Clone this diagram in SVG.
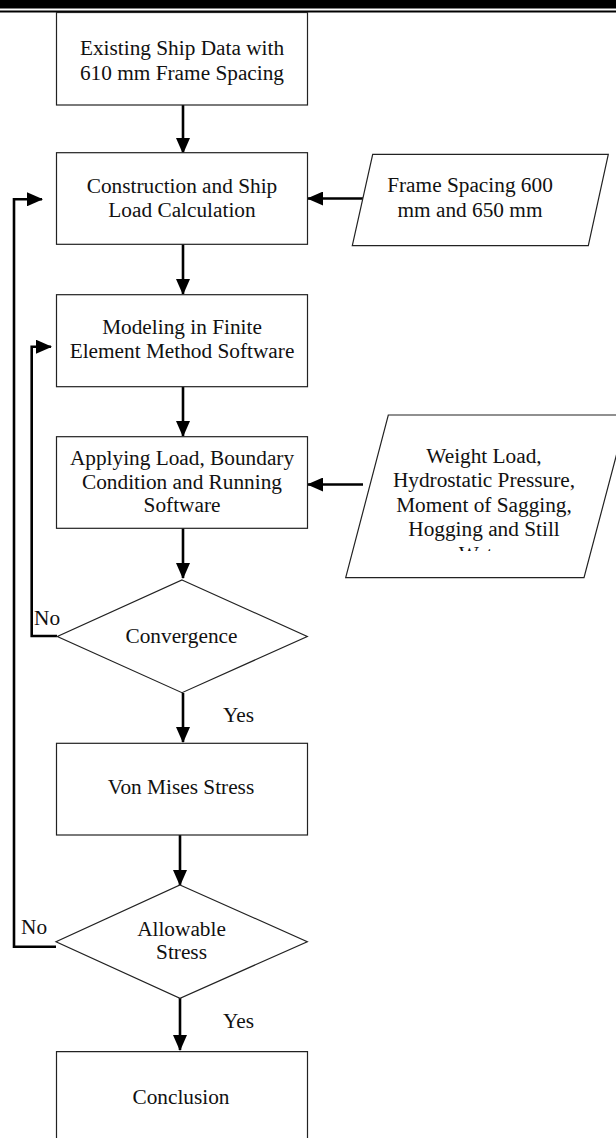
<svg xmlns="http://www.w3.org/2000/svg" width="616" height="1138" viewBox="0 0 616 1138">
<style>
.box{fill:#fff;stroke:#222;stroke-width:1.2}
.t{font-family:"Liberation Serif","Times New Roman",serif;font-size:21.3px;fill:#111;text-anchor:middle}
.tl{font-family:"Liberation Serif","Times New Roman",serif;font-size:21.3px;fill:#111}
.c{fill:none;stroke:#000;stroke-width:2.6}
</style>
<defs>
<marker id="ah" viewBox="0 0 16 14" refX="15" refY="7" markerWidth="16" markerHeight="14" markerUnits="userSpaceOnUse" orient="auto">
<path d="M0,0 L16,7 L0,14 z" fill="#000"/>
</marker>
<clipPath id="clipW"><rect x="340" y="410" width="280" height="141"/></clipPath>
</defs>
<rect width="616" height="1138" fill="#fff"/>
<g id="header">
<rect x="0" y="0" width="616" height="8.5" fill="#000"/>
<rect x="0" y="10.5" width="616" height="2" fill="#000"/>
</g>
<g id="connectors">
<path class="c" d="M183,105 V153" marker-end="url(#ah)"/>
<path class="c" d="M183,244 V294" marker-end="url(#ah)"/>
<path class="c" d="M183,387 V436" marker-end="url(#ah)"/>
<path class="c" d="M183,528 V578" marker-end="url(#ah)"/>
<path class="c" d="M183,693 V742" marker-end="url(#ah)"/>
<path class="c" d="M180,835 V885" marker-end="url(#ah)"/>
<path class="c" d="M180,998 V1050" marker-end="url(#ah)"/>
<path class="c" d="M363,198.5 H308" marker-end="url(#ah)"/>
<path class="c" d="M363,484.5 H308" marker-end="url(#ah)"/>
<path class="c" d="M57,636 H31.7 V346.7 H51" marker-end="url(#ah)"/>
<path class="c" d="M56,946.7 H14 V199.3 H42" marker-end="url(#ah)"/>
<text class="tl" x="34" y="625">No</text>
<text class="tl" x="21" y="934">No</text>
<text class="tl" x="223" y="722">Yes</text>
<text class="tl" x="223" y="1028">Yes</text>
</g>
<g id="n1">
<rect class="box" x="56.5" y="12.5" width="251" height="92.5"/>
<text class="t" x="182" y="55">Existing Ship Data with</text>
<text class="t" x="182" y="80">610 mm Frame Spacing</text>
</g>
<g id="n2">
<rect class="box" x="56.5" y="152.7" width="251" height="91.6"/>
<text class="t" x="182" y="193">Construction and Ship</text>
<text class="t" x="182" y="217">Load Calculation</text>
</g>
<g id="p1">
<polygon class="box" points="372.7,154.3 608.3,154.3 588.3,245.7 352.3,245.7"/>
<text class="t" x="470" y="192">Frame Spacing 600</text>
<text class="t" x="470" y="217">mm and 650 mm</text>
</g>
<g id="n3">
<rect class="box" x="56.5" y="294.7" width="251" height="92"/>
<text class="t" x="182" y="334">Modeling in Finite</text>
<text class="t" x="182" y="358">Element Method Software</text>
</g>
<g id="n4">
<rect class="box" x="56.5" y="436.7" width="251" height="91.6"/>
<text class="t" x="182" y="465">Applying Load, Boundary</text>
<text class="t" x="182" y="489">Condition and Running</text>
<text class="t" x="182" y="512">Software</text>
</g>
<g id="p2">
<polygon class="box" points="388.3,415 627,415 584,577.7 345.7,577.7"/>
<g clip-path="url(#clipW)">
<text class="t" x="484" y="463">Weight Load,</text>
<text class="t" x="484" y="487">Hydrostatic Pressure,</text>
<text class="t" x="484" y="512">Moment of Sagging,</text>
<text class="t" x="484" y="536">Hogging and Still</text>
<text class="t" x="484" y="561">Water</text>
</g>
</g>
<g id="d1">
<polygon class="box" points="182,580 307.3,636.5 182,692.7 57.3,636.5"/>
<text class="t" x="181.5" y="643">Convergence</text>
</g>
<g id="n5">
<rect class="box" x="56.5" y="743.3" width="251" height="91.7"/>
<text class="t" x="181" y="794">Von Mises Stress</text>
</g>
<g id="d2">
<polygon class="box" points="180,885 307.3,941.7 180,998.3 56,941.7"/>
<text class="t" x="181.5" y="936">Allowable</text>
<text class="t" x="181.5" y="959">Stress</text>
</g>
<g id="n6">
<path class="box" d="M56.5,1140 V1051.7 H307.5 V1140"/>
<text class="t" x="181" y="1104">Conclusion</text>
</g>
</svg>
